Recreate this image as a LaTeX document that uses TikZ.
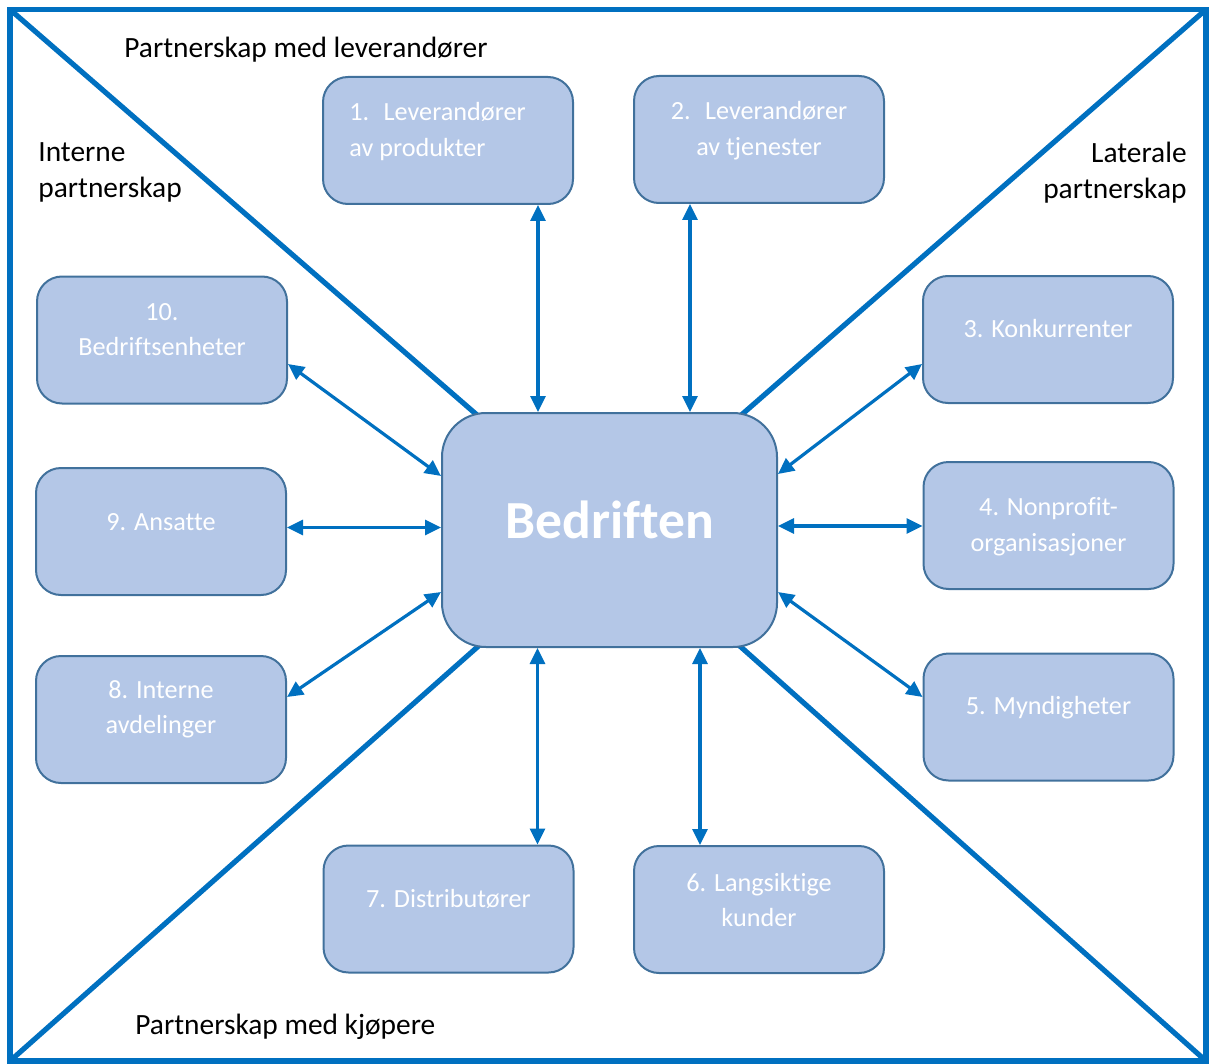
\documentclass[tikz,border=0pt]{standalone}
\usepackage{fontspec}
\setmainfont[Ligatures=NoCommon]{Carlito}
\usetikzlibrary{arrows.meta}
\definecolor{frameblue}{HTML}{0070C0}
\definecolor{boxfill}{HTML}{B4C7E7}
\definecolor{boxedge}{HTML}{41719C}

\begin{document}
\begin{tikzpicture}[x=0.5pt,y=-0.5pt,
  partner/.style={draw=boxedge, line width=1pt, fill=boxfill, rounded corners=12.5pt,
    minimum width=125pt, minimum height=63.5pt, inner sep=0pt},
  core/.style={partner, rounded corners=22pt, minimum width=167.5pt, minimum height=117pt},
  boxtext/.style={text=white, font=\fontsize{13.1}{17.75}\selectfont, align=center, inner sep=0pt},
  zonetext/.style={text=black, font=\fontsize{14.7}{17.75}\selectfont, inner sep=0pt},
  link/.style={draw=frameblue, line width=1.6pt,
    {Triangle[length=8pt,width=7.5pt]}-{Triangle[length=8pt,width=7.5pt]}},
  edge/.style={draw=frameblue, line width=2.6pt}
]
\useasboundingbox (0,0) rectangle (1209,1064);

% outer frame and the four zone dividers meeting at the centre
\coordinate (nw) at (10,9.5);
\coordinate (ne) at (1206,9.5);
\coordinate (sw) at (10,1061);
\coordinate (se) at (1206,1061);
\coordinate (mid) at (609.5,530);
\draw[edge] (nw) rectangle (se);
\draw[edge] (nw) -- (mid);
\draw[edge] (ne) -- (mid);
\draw[edge] (sw) -- (mid);
\draw[edge] (se) -- (mid);

% central company box
\node[core] (bed) at (609.5,530) {};
\node[boxtext, font=\fontsize{26.8}{30}\selectfont\bfseries] (bedtxt) at ([yshift=5pt]bed.center) {Bedriften};

% partner boxes
\node[partner] (b1) at (448,140.5) {};
\node[partner] (b2) at (759,139.5) {};
\node[partner] (b3) at (1048,339.5) {};
\node[partner] (b4) at (1048.5,525.5) {};
\node[partner] (b5) at (1048.5,717) {};
\node[partner] (b6) at (759,909.5) {};
\node[partner] (b7) at (448.5,909) {};
\node[partner] (b8) at (161,719.5) {};
\node[partner] (b9) at (161,531.5) {};
\node[partner] (b10) at (162,340) {};

\node[boxtext, align=left, anchor=west] (t1) at ([xshift=13.5pt,yshift=4.5pt]b1.west) {1.\hspace{0.55em}Leverandører\\av produkter};
\node[boxtext] (t2) at ([yshift=4.5pt]b2.center) {2.\hspace{0.55em}Leverandører\\av tjenester};
\node[boxtext] (t3) at ([yshift=5.25pt]b3.center) {3. Konkurrenter};
\node[boxtext] (t4) at ([yshift=-0.5pt]b4.center) {4. Nonprofit-\\organisasjoner};
\node[boxtext] (t5) at ([yshift=4.5pt]b5.center) {5. Myndigheter};
\node[boxtext] (t6) at ([yshift=4.75pt]b6.center) {6. Langsiktige\\kunder};
\node[boxtext] (t7) at ([yshift=5pt]b7.center) {7. Distributører};
\node[boxtext] (t8) at ([yshift=5pt]b8.center) {8. Interne\\avdelinger};
\node[boxtext] (t9) at ([yshift=4.75pt]b9.center) {9. Ansatte};
\node[boxtext] (t10) at ([yshift=5.25pt]b10.center) {10.\\Bedriftsenheter};

% zone labels
\node[zonetext, anchor=west] (zsup) at (124,50) {Partnerskap med leverandører};
\node[zonetext, anchor=west, align=left] (zint) at (38,172.5) {Interne\\partnerskap};
\node[zonetext, anchor=east, align=right] (zlat) at (1187,172.5) {Laterale\\partnerskap};
\node[zonetext, anchor=west] (zbuy) at (135,1027) {Partnerskap med kjøpere};

% two-way links between the company and each partner
\draw[link] ([xshift=-18pt]b1.south east) -- ([xshift=-18pt]b1.south east |- bed.north);
\draw[link] ([xshift=28.5pt]b2.south west) -- ([xshift=28.5pt]b2.south west |- bed.north);
\draw[link] ([xshift=-18.5pt]b7.north east |- bed.south) -- ([xshift=-18.5pt]b7.north east);
\draw[link] ([xshift=33.5pt]b6.north west |- bed.south) -- ([xshift=33.5pt]b6.north west);
\draw[link] ([yshift=2pt]b9.east) -- ([yshift=2pt]b9.east -| bed.west);
\draw[link] ([yshift=2pt]bed.east) -- ([yshift=2pt]bed.east -| b4.west);
\draw[link] ([yshift=-12pt]b10.east) -- ([yshift=27pt]bed.west);
\draw[link] ([yshift=11.25pt]b8.east) -- ([yshift=-31pt]bed.west);
\draw[link] ([yshift=-12.25pt]b3.west) -- ([yshift=28pt]bed.east);
\draw[link] ([yshift=10pt]b5.west) -- ([yshift=-31pt]bed.east);
\end{tikzpicture}
\end{document}
